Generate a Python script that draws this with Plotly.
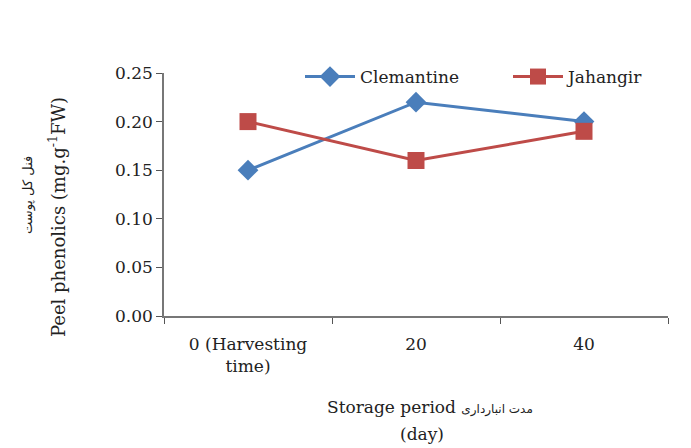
import plotly.graph_objects as go

# Storage period categories (days)
periods = ["0 (Harvesting<br>time)", "20", "40"]
# Peel phenolics content, mg.g-1 FW
clemantine = [0.15, 0.22, 0.20]
jahangir = [0.20, 0.16, 0.19]
y_ticks = [0.00, 0.05, 0.10, 0.15, 0.20, 0.25]

BLUE = "#4a7ebb"
RED = "#be4b48"
SERIF = "DejaVu Serif"
INK = "#222222"

# plot area in pixels
W, H = 691, 448
L, R, T, B = 164, 23, 73, 132
PW, PH = W - L - R, H - T - B


def px_x(x):
    return (x - L) / PW


def px_y(y):
    return (H - B - y) / PH


fig = go.Figure()
fig.add_trace(go.Scatter(
    x=periods, y=clemantine, name="Clemantine", mode="lines+markers",
    line=dict(color=BLUE, width=3),
    marker=dict(symbol="diamond", size=16, color=BLUE),
    legend="legend",
))
fig.add_trace(go.Scatter(
    x=periods, y=jahangir, name="Jahangir", mode="lines+markers",
    line=dict(color=RED, width=3),
    marker=dict(symbol="square", size=17, color=RED),
    legend="legend2",
))

legend_common = dict(
    orientation="h", xanchor="left", yanchor="middle",
    xref="paper", yref="paper", y=px_y(77),
    itemwidth=50, bgcolor="rgba(0,0,0,0)",
    font=dict(family=SERIF, size=17, color=INK),
)

fig.update_layout(
    width=W, height=H,
    margin=dict(l=L, r=R, t=T, b=B),
    paper_bgcolor="white", plot_bgcolor="white",
    font=dict(family=SERIF, size=17, color=INK),
    showlegend=True,
    legend=dict(x=px_x(300), **legend_common),
    legend2=dict(x=px_x(508), **legend_common),
)
fig.update_xaxes(
    type="category", range=[-0.5, 2.5], tickson="boundaries",
    ticks="outside", ticklen=6, tickcolor="#555555",
    showline=True, linecolor="#777777", linewidth=1.5,
    showgrid=False, zeroline=False, ticklabelstandoff=12,
    tickfont=dict(family=SERIF, size=17, color=INK),
)
fig.update_yaxes(
    range=[0, 0.25], tickvals=y_ticks,
    ticktext=[f"{v:.2f}" for v in y_ticks],
    ticks="outside", ticklen=6, tickcolor="#555555",
    showline=True, linecolor="#777777", linewidth=1.5,
    showgrid=False, zeroline=False,
    tickfont=dict(family=SERIF, size=17, color=INK),
)

# Axis titles (English and Persian), placed in pixel coordinates
titles = [
    dict(text="Peel phenolics (mg.g<sup>-1</sup>FW)", textangle=-90,
         x=57, y=217, font=dict(family=SERIF, size=18, color=INK)),
    dict(text="فنل کل پوست", textangle=-90,
         x=28, y=195, font=dict(family="DejaVu Sans", size=13, color=INK)),
    dict(text="Storage period <span style='font-family:DejaVu Sans;font-size:12px'>مدت انبارداری</span>",
         x=430, y=407, font=dict(family=SERIF, size=17, color=INK)),
    dict(text="(day)", x=422, y=434, font=dict(family=SERIF, size=17, color=INK)),
]
for t in titles:
    fig.add_annotation(
        xref="paper", yref="paper", showarrow=False,
        x=px_x(t.pop("x")), y=px_y(t.pop("y")),
        xanchor="center", yanchor="middle",
        **t,
    )

fig.write_html("out.html")
